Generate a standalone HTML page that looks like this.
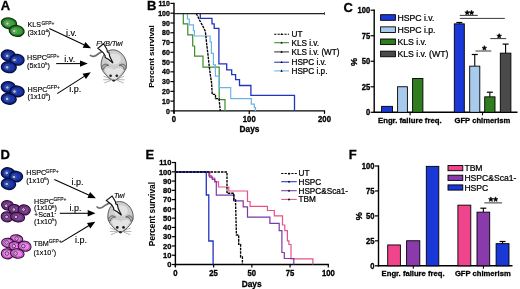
<!DOCTYPE html>
<html><head><meta charset="utf-8"><style>
html,body{margin:0;padding:0;background:#fff;}
svg{display:block;filter:blur(0.35px);}
svg text{font-family:"Liberation Sans", sans-serif;stroke:#000;stroke-width:0.14px;}
svg text.h{stroke:#000;stroke-width:0.24px;}
svg text[font-weight="bold"]{stroke:#000;stroke-width:0.3px;}
svg text.ps{stroke-width:0.05px;}
</style></head><body>
<svg width="520" height="289" viewBox="0 0 520 289">
<rect width="520" height="289" fill="#fff"/>
<text x="0.8" y="10.2" font-size="13" font-weight="bold" text-anchor="start" font-style="normal" fill="#000" >A</text>
<text x="146.9" y="9.9" font-size="13" font-weight="bold" text-anchor="start" font-style="normal" fill="#000" >B</text>
<text x="343.4" y="11.6" font-size="13" font-weight="bold" text-anchor="start" font-style="normal" fill="#000" >C</text>
<text x="0.6" y="158.6" font-size="13" font-weight="bold" text-anchor="start" font-style="normal" fill="#000" >D</text>
<text x="145.6" y="158.6" font-size="13" font-weight="bold" text-anchor="start" font-style="normal" fill="#000" >E</text>
<text x="348.8" y="159.0" font-size="13" font-weight="bold" text-anchor="start" font-style="normal" fill="#000" >F</text>
<g transform="translate(9,23.3) rotate(10)"><ellipse rx="7.6" ry="5.3" fill="#3e9f3e" stroke="#0a3a0a" stroke-width="1.4"/><ellipse rx="6.1" ry="4.0" fill="none" stroke="#0a3a0a" stroke-opacity="0.4" stroke-width="0.9"/></g>
<circle cx="7.4" cy="23.6" r="2.7" fill="#6ab86a"/><circle cx="7.4" cy="23.6" r="1.95" fill="#0a3a0a" fill-opacity="0.5"/><circle cx="7.4" cy="23.6" r="1.35" fill="#c4ccc4"/>
<g transform="translate(16.7,30.9) rotate(10)"><ellipse rx="7.4" ry="5.3" fill="#3e9f3e" stroke="#0a3a0a" stroke-width="1.4"/><ellipse rx="5.9" ry="4.0" fill="none" stroke="#0a3a0a" stroke-opacity="0.4" stroke-width="0.9"/></g>
<circle cx="14.3" cy="31.1" r="2.7" fill="#6ab86a"/><circle cx="14.3" cy="31.1" r="1.95" fill="#0a3a0a" fill-opacity="0.5"/><circle cx="14.3" cy="31.1" r="1.35" fill="#c4ccc4"/>
<g transform="translate(8.3,55.5) rotate(6)"><ellipse rx="7.0" ry="5.4" fill="#1c38ac" stroke="#060e40" stroke-width="1.4"/><ellipse rx="5.5" ry="4.1000000000000005" fill="none" stroke="#060e40" stroke-opacity="0.4" stroke-width="0.9"/></g>
<circle cx="7.3" cy="55.9" r="2.7" fill="#3a58bc"/><circle cx="7.3" cy="55.9" r="1.95" fill="#060e40" fill-opacity="0.5"/><circle cx="7.3" cy="55.9" r="1.35" fill="#b8bed4"/>
<g transform="translate(17.1,59.8) rotate(6)"><ellipse rx="7.0" ry="5.3" fill="#1c38ac" stroke="#060e40" stroke-width="1.4"/><ellipse rx="5.5" ry="4.0" fill="none" stroke="#060e40" stroke-opacity="0.4" stroke-width="0.9"/></g>
<circle cx="14.5" cy="60" r="2.7" fill="#3a58bc"/><circle cx="14.5" cy="60" r="1.95" fill="#060e40" fill-opacity="0.5"/><circle cx="14.5" cy="60" r="1.35" fill="#b8bed4"/>
<g transform="translate(8.8,67.2) rotate(6)"><ellipse rx="7.4" ry="5.4" fill="#1c38ac" stroke="#060e40" stroke-width="1.4"/><ellipse rx="5.9" ry="4.1000000000000005" fill="none" stroke="#060e40" stroke-opacity="0.4" stroke-width="0.9"/></g>
<circle cx="7.1" cy="67.3" r="2.7" fill="#3a58bc"/><circle cx="7.1" cy="67.3" r="1.95" fill="#060e40" fill-opacity="0.5"/><circle cx="7.1" cy="67.3" r="1.35" fill="#b8bed4"/>
<g transform="translate(8.3,87.1) rotate(6)"><ellipse rx="7.0" ry="5.4" fill="#1c38ac" stroke="#060e40" stroke-width="1.4"/><ellipse rx="5.5" ry="4.1000000000000005" fill="none" stroke="#060e40" stroke-opacity="0.4" stroke-width="0.9"/></g>
<circle cx="7.3" cy="87.5" r="2.7" fill="#3a58bc"/><circle cx="7.3" cy="87.5" r="1.95" fill="#060e40" fill-opacity="0.5"/><circle cx="7.3" cy="87.5" r="1.35" fill="#b8bed4"/>
<g transform="translate(17.1,91.4) rotate(6)"><ellipse rx="7.0" ry="5.3" fill="#1c38ac" stroke="#060e40" stroke-width="1.4"/><ellipse rx="5.5" ry="4.0" fill="none" stroke="#060e40" stroke-opacity="0.4" stroke-width="0.9"/></g>
<circle cx="14.5" cy="91.6" r="2.7" fill="#3a58bc"/><circle cx="14.5" cy="91.6" r="1.95" fill="#060e40" fill-opacity="0.5"/><circle cx="14.5" cy="91.6" r="1.35" fill="#b8bed4"/>
<g transform="translate(8.8,98.80000000000001) rotate(6)"><ellipse rx="7.4" ry="5.4" fill="#1c38ac" stroke="#060e40" stroke-width="1.4"/><ellipse rx="5.9" ry="4.1000000000000005" fill="none" stroke="#060e40" stroke-opacity="0.4" stroke-width="0.9"/></g>
<circle cx="7.1" cy="98.9" r="2.7" fill="#3a58bc"/><circle cx="7.1" cy="98.9" r="1.95" fill="#060e40" fill-opacity="0.5"/><circle cx="7.1" cy="98.9" r="1.35" fill="#b8bed4"/>
<g transform="translate(8,173.2) rotate(6)"><ellipse rx="6.7" ry="5.4" fill="#1c38ac" stroke="#060e40" stroke-width="1.4"/><ellipse rx="5.2" ry="4.1000000000000005" fill="none" stroke="#060e40" stroke-opacity="0.4" stroke-width="0.9"/></g>
<circle cx="6.7" cy="172.9" r="2.7" fill="#3a58bc"/><circle cx="6.7" cy="172.9" r="1.95" fill="#060e40" fill-opacity="0.5"/><circle cx="6.7" cy="172.9" r="1.35" fill="#b8bed4"/>
<g transform="translate(16,176.5) rotate(6)"><ellipse rx="6.5" ry="5.2" fill="#1c38ac" stroke="#060e40" stroke-width="1.4"/><ellipse rx="5.0" ry="3.9000000000000004" fill="none" stroke="#060e40" stroke-opacity="0.4" stroke-width="0.9"/></g>
<circle cx="14" cy="177" r="2.7" fill="#3a58bc"/><circle cx="14" cy="177" r="1.95" fill="#060e40" fill-opacity="0.5"/><circle cx="14" cy="177" r="1.35" fill="#b8bed4"/>
<g transform="translate(8.5,184) rotate(6)"><ellipse rx="7.1" ry="5.4" fill="#1c38ac" stroke="#060e40" stroke-width="1.4"/><ellipse rx="5.6" ry="4.1000000000000005" fill="none" stroke="#060e40" stroke-opacity="0.4" stroke-width="0.9"/></g>
<circle cx="6.7" cy="184" r="2.7" fill="#3a58bc"/><circle cx="6.7" cy="184" r="1.95" fill="#060e40" fill-opacity="0.5"/><circle cx="6.7" cy="184" r="1.35" fill="#b8bed4"/>
<g transform="translate(7.6,205.4) rotate(10)"><ellipse rx="6.1" ry="4.7" fill="#85449b" stroke="#2c0a36" stroke-width="1.15"/><ellipse rx="4.6" ry="3.4000000000000004" fill="none" stroke="#2c0a36" stroke-opacity="0.4" stroke-width="0.9"/></g>
<circle cx="6.2" cy="205.8" r="1.75" fill="#e0d4e4" stroke="#2c0a36" stroke-width="0.75"/><circle cx="6.2" cy="205.8" r="0.6" fill="#888"/>
<g transform="translate(14.5,209.2) rotate(10)"><ellipse rx="6.2" ry="4.6" fill="#85449b" stroke="#2c0a36" stroke-width="1.15"/><ellipse rx="4.7" ry="3.3" fill="none" stroke="#2c0a36" stroke-opacity="0.4" stroke-width="0.9"/></g>
<circle cx="13.8" cy="209.5" r="1.75" fill="#e0d4e4" stroke="#2c0a36" stroke-width="0.75"/><circle cx="13.8" cy="209.5" r="0.6" fill="#888"/>
<g transform="translate(24.2,209.9) rotate(10)"><ellipse rx="6.1" ry="5.0" fill="#85449b" stroke="#2c0a36" stroke-width="1.15"/><ellipse rx="4.6" ry="3.7" fill="none" stroke="#2c0a36" stroke-opacity="0.4" stroke-width="0.9"/></g>
<circle cx="23.5" cy="209.5" r="1.75" fill="#e0d4e4" stroke="#2c0a36" stroke-width="0.75"/><circle cx="23.5" cy="209.5" r="0.6" fill="#888"/>
<g transform="translate(7,216.8) rotate(10)"><ellipse rx="5.8" ry="5.0" fill="#85449b" stroke="#2c0a36" stroke-width="1.15"/><ellipse rx="4.3" ry="3.7" fill="none" stroke="#2c0a36" stroke-opacity="0.4" stroke-width="0.9"/></g>
<circle cx="6.6" cy="216.9" r="1.75" fill="#e0d4e4" stroke="#2c0a36" stroke-width="0.75"/><circle cx="6.6" cy="216.9" r="0.6" fill="#888"/>
<g transform="translate(17.6,217.1) rotate(10)"><ellipse rx="7.0" ry="4.7" fill="#85449b" stroke="#2c0a36" stroke-width="1.15"/><ellipse rx="5.5" ry="3.4000000000000004" fill="none" stroke="#2c0a36" stroke-opacity="0.4" stroke-width="0.9"/></g>
<circle cx="15.9" cy="216.9" r="1.75" fill="#e0d4e4" stroke="#2c0a36" stroke-width="0.75"/><circle cx="15.9" cy="216.9" r="0.6" fill="#888"/>
<g transform="translate(16.6,238.6) rotate(10)"><ellipse rx="6.2" ry="3.8" fill="#ee84ee" stroke="#3c0a40" stroke-width="1.1"/><ellipse rx="4.7" ry="2.5" fill="none" stroke="#3c0a40" stroke-opacity="0.4" stroke-width="0.9"/></g>
<circle cx="16.6" cy="238.6" r="1.75" fill="#ecd4ec" stroke="#3c0a40" stroke-width="0.75"/><circle cx="16.6" cy="238.6" r="0.6" fill="#888"/>
<g transform="translate(8,243) rotate(10)"><ellipse rx="6.4" ry="4.7" fill="#ee84ee" stroke="#3c0a40" stroke-width="1.1"/><ellipse rx="4.9" ry="3.4000000000000004" fill="none" stroke="#3c0a40" stroke-opacity="0.4" stroke-width="0.9"/></g>
<circle cx="6.6" cy="242.4" r="1.75" fill="#ecd4ec" stroke="#3c0a40" stroke-width="0.75"/><circle cx="6.6" cy="242.4" r="0.6" fill="#888"/>
<g transform="translate(14.9,246.2) rotate(10)"><ellipse rx="6.0" ry="4.5" fill="#ee84ee" stroke="#3c0a40" stroke-width="1.1"/><ellipse rx="4.5" ry="3.2" fill="none" stroke="#3c0a40" stroke-opacity="0.4" stroke-width="0.9"/></g>
<circle cx="13.8" cy="246.1" r="1.75" fill="#ecd4ec" stroke="#3c0a40" stroke-width="0.75"/><circle cx="13.8" cy="246.1" r="0.6" fill="#888"/>
<g transform="translate(24.6,246.2) rotate(10)"><ellipse rx="6.5" ry="5.0" fill="#ee84ee" stroke="#3c0a40" stroke-width="1.1"/><ellipse rx="5.0" ry="3.7" fill="none" stroke="#3c0a40" stroke-opacity="0.4" stroke-width="0.9"/></g>
<circle cx="23.3" cy="246.1" r="1.75" fill="#ecd4ec" stroke="#3c0a40" stroke-width="0.75"/><circle cx="23.3" cy="246.1" r="0.6" fill="#888"/>
<g transform="translate(7.3,253.8) rotate(10)"><ellipse rx="6.0" ry="5.0" fill="#ee84ee" stroke="#3c0a40" stroke-width="1.1"/><ellipse rx="4.5" ry="3.7" fill="none" stroke="#3c0a40" stroke-opacity="0.4" stroke-width="0.9"/></g>
<circle cx="6.9" cy="253.5" r="1.75" fill="#ecd4ec" stroke="#3c0a40" stroke-width="0.75"/><circle cx="6.9" cy="253.5" r="0.6" fill="#888"/>
<g transform="translate(17.3,253.5) rotate(10)"><ellipse rx="6.8" ry="4.7" fill="#ee84ee" stroke="#3c0a40" stroke-width="1.1"/><ellipse rx="5.3" ry="3.4000000000000004" fill="none" stroke="#3c0a40" stroke-opacity="0.4" stroke-width="0.9"/></g>
<circle cx="15.5" cy="253.5" r="1.75" fill="#ecd4ec" stroke="#3c0a40" stroke-width="0.75"/><circle cx="15.5" cy="253.5" r="0.6" fill="#888"/>
<text x="27.6" y="27.2" font-size="7.1" font-weight="normal" text-anchor="start" font-style="normal" fill="#000" >KLS</text>
<text x="41.4" y="24.6" font-size="4.9" fill="#000">GFP+</text>
<text x="27.4" y="34.9" font-size="7.2" fill="#000">(3x10<tspan font-size="4.4" dy="-2.8">4</tspan><tspan dy="2.8">)</tspan></text>
<text x="27.0" y="60.4" font-size="7.2" fill="#000">HSPC</text>
<text x="46.4" y="57.8" font-size="4.9" fill="#000">GFP+</text>
<text x="27.0" y="67.8" font-size="7.2" fill="#000">(5x10<tspan font-size="4.4" dy="-2.8">5</tspan><tspan dy="2.8">)</tspan></text>
<text x="27.6" y="91.5" font-size="7.2" fill="#000">HSPC</text>
<text x="47.0" y="88.9" font-size="4.9" fill="#000">GFP+</text>
<text x="27.6" y="98.9" font-size="7.2" fill="#000">(1x10<tspan font-size="4.4" dy="-2.8">6</tspan><tspan dy="2.8">)</tspan></text>
<text x="26.2" y="175.2" font-size="7.2" fill="#000">HSPC</text>
<text x="45.599999999999994" y="172.6" font-size="4.9" fill="#000">GFP+</text>
<text x="26.2" y="182.5" font-size="7.2" fill="#000">(1x10<tspan font-size="4.4" dy="-2.8">6</tspan><tspan dy="2.8">)</tspan></text>
<text x="34.0" y="203.8" font-size="7.2" fill="#000">HSPC</text>
<text x="53.4" y="201.20000000000002" font-size="4.9" fill="#000">GFP+</text>
<text x="34.0" y="210.3" font-size="7.2" fill="#000">(1x10<tspan font-size="4.4" dy="-2.8">6</tspan><tspan dy="2.8">)</tspan></text>
<text x="34.0" y="217.0" font-size="7.2" fill="#000">+Sca1<tspan font-size="4.4" dy="-2.8">-</tspan></text>
<text x="34.0" y="224.0" font-size="7.2" fill="#000">(1x10<tspan font-size="4.4" dy="-2.8">5</tspan><tspan dy="2.8">)</tspan></text>
<text x="33.6" y="246.0" font-size="7.2" fill="#000">TBM</text>
<text x="48.8" y="243.4" font-size="4.9" fill="#000">GFP+</text>
<text x="33.4" y="254.9" font-size="7.2" fill="#000">(1x10<tspan font-size="4.4" dy="-2.8">7</tspan><tspan dy="2.8">)</tspan></text>
<line x1="49.3" y1="28.6" x2="84.49" y2="45.10" stroke="#000" stroke-width="1.05"/>
<polygon points="91.10,48.20 82.68,47.79 85.40,41.99" fill="#000"/>
<line x1="56.2" y1="63.6" x2="80.50" y2="63.60" stroke="#000" stroke-width="1.05"/>
<polygon points="87.80,63.60 80.00,66.80 80.00,60.40" fill="#000"/>
<line x1="57.2" y1="93.6" x2="84.64" y2="76.12" stroke="#000" stroke-width="1.05"/>
<polygon points="90.80,72.20 85.94,79.09 82.50,73.69" fill="#000"/>
<line x1="54.3" y1="179.6" x2="89.24" y2="195.22" stroke="#000" stroke-width="1.05"/>
<polygon points="95.90,198.20 87.47,197.94 90.09,192.09" fill="#000"/>
<line x1="59.8" y1="213.3" x2="88.20" y2="213.30" stroke="#000" stroke-width="1.05"/>
<polygon points="95.50,213.30 87.70,216.50 87.70,210.10" fill="#000"/>
<line x1="61.2" y1="242.4" x2="89.05" y2="225.57" stroke="#000" stroke-width="1.05"/>
<polygon points="95.30,221.80 90.28,228.57 86.97,223.09" fill="#000"/>
<text x="66.0" y="35.5" font-size="9" font-weight="normal" text-anchor="start" font-style="normal" fill="#000" >i.v.</text>
<text x="64.3" y="61.9" font-size="9" font-weight="normal" text-anchor="start" font-style="normal" fill="#000" >i.v.</text>
<text x="69.2" y="91.7" font-size="9" font-weight="normal" text-anchor="start" font-style="normal" fill="#000" >i.p.</text>
<text x="71.4" y="185.2" font-size="9" font-weight="normal" text-anchor="start" font-style="normal" fill="#000" >i.p.</text>
<text x="69.6" y="210.9" font-size="9" font-weight="normal" text-anchor="start" font-style="normal" fill="#000" >i.p.</text>
<text x="75.0" y="242.9" font-size="9" font-weight="normal" text-anchor="start" font-style="normal" fill="#000" >i.p.</text>
<text x="96.2" y="45.7" font-size="7.1" font-weight="normal" text-anchor="start" font-style="italic" fill="#000" >FVB/Twi</text>
<text x="114.0" y="197.6" font-size="7.1" font-weight="normal" text-anchor="start" font-style="italic" fill="#000" >Twi</text>
<g transform="translate(0,0)">
<path d="M90.4,55.3 C92,57.2 95,56.6 98,54 C100,52.4 102,51.2 104.5,51.2" fill="none" stroke="#707070" stroke-width="1.7" stroke-linecap="round"/>
<path d="M112.6,49.8 C119.6,49.8 126.5,56.5 126.5,65.2 C126.5,71.2 120,77.6 113.9,81.2 C107.7,77.6 101.1,71.2 101.1,65.2 C101.1,57.2 105.6,49.8 112.6,49.8 Z" fill="#cdcdcd" stroke="#555" stroke-width="0.95"/>
<ellipse cx="114" cy="59" rx="7" ry="5.5" fill="#e2e2e2"/>
<path d="M104.5,69.5 C108,67.3 111,67.8 113.9,70 C116.8,67.8 119.8,67.3 123.3,69.5 C121,74.5 117.5,78 113.9,80.2 C110.3,78 106.8,74.5 104.5,69.5 Z" fill="#e4e4e4"/>
<path d="M101.6,68.6 C101.6,64.8 105.2,62.6 108.8,65.4 C106.2,65.2 104.2,66.4 103.6,69.6 Z" fill="#b0b0b0" stroke="#555" stroke-width="0.85"/>
<path d="M126.2,68.6 C126.2,64.8 122.6,62.6 119.0,65.4 C121.6,65.2 123.6,66.4 124.2,69.6 Z" fill="#b0b0b0" stroke="#555" stroke-width="0.85"/>
<circle cx="110.6" cy="75.7" r="1.3" fill="#1a1a1a"/><circle cx="116.8" cy="75.7" r="1.3" fill="#1a1a1a"/><ellipse cx="113.7" cy="80.5" rx="1.6" ry="1.1" fill="#2a2a2a"/>
<g stroke="#555" stroke-width="0.45" fill="none"><path d="M111,79 L103.6,76.2"/><path d="M111,79.6 L103.2,79.8"/><path d="M111.2,80.2 L104.2,83"/><path d="M116.8,79 L124.2,76.2"/><path d="M116.8,79.6 L124.6,79.8"/><path d="M116.6,80.2 L123.6,83"/></g>
</g>
<polygon points="97.90,48.20 103.61,43.82 106.83,49.16 107.46,51.95 108.78,52.20 109.78,56.60 112.99,63.09 108.75,59.54 105.17,57.50 105.11,55.78 103.11,52.52" fill="#fff" stroke="#111" stroke-width="1.15" stroke-linejoin="miter"/>
<g transform="translate(6.7,151.7)">
<path d="M90.4,55.3 C92,57.2 95,56.6 98,54 C100,52.4 102,51.2 104.5,51.2" fill="none" stroke="#707070" stroke-width="1.7" stroke-linecap="round"/>
<path d="M112.6,49.8 C119.6,49.8 126.5,56.5 126.5,65.2 C126.5,71.2 120,77.6 113.9,81.2 C107.7,77.6 101.1,71.2 101.1,65.2 C101.1,57.2 105.6,49.8 112.6,49.8 Z" fill="#cdcdcd" stroke="#555" stroke-width="0.95"/>
<ellipse cx="114" cy="59" rx="7" ry="5.5" fill="#e2e2e2"/>
<path d="M104.5,69.5 C108,67.3 111,67.8 113.9,70 C116.8,67.8 119.8,67.3 123.3,69.5 C121,74.5 117.5,78 113.9,80.2 C110.3,78 106.8,74.5 104.5,69.5 Z" fill="#e4e4e4"/>
<path d="M101.6,68.6 C101.6,64.8 105.2,62.6 108.8,65.4 C106.2,65.2 104.2,66.4 103.6,69.6 Z" fill="#b0b0b0" stroke="#555" stroke-width="0.85"/>
<path d="M126.2,68.6 C126.2,64.8 122.6,62.6 119.0,65.4 C121.6,65.2 123.6,66.4 124.2,69.6 Z" fill="#b0b0b0" stroke="#555" stroke-width="0.85"/>
<circle cx="110.6" cy="75.7" r="1.3" fill="#1a1a1a"/><circle cx="116.8" cy="75.7" r="1.3" fill="#1a1a1a"/><ellipse cx="113.7" cy="80.5" rx="1.6" ry="1.1" fill="#2a2a2a"/>
<g stroke="#555" stroke-width="0.45" fill="none"><path d="M111,79 L103.6,76.2"/><path d="M111,79.6 L103.2,79.8"/><path d="M111.2,80.2 L104.2,83"/><path d="M116.8,79 L124.2,76.2"/><path d="M116.8,79.6 L124.6,79.8"/><path d="M116.6,80.2 L123.6,83"/></g>
</g>
<polygon points="106.40,200.40 112.11,196.02 115.33,201.36 115.96,204.15 117.28,204.40 118.28,208.80 121.49,215.29 117.25,211.74 113.67,209.70 113.61,207.98 111.61,204.72" fill="#fff" stroke="#111" stroke-width="1.15" stroke-linejoin="miter"/>
<line x1="174.0" y1="2.83" x2="174.0" y2="113.4" stroke="#000" stroke-width="1.4"/>
<line x1="173.3" y1="110.9" x2="325.10" y2="110.9" stroke="#000" stroke-width="1.4"/>
<line x1="170.4" y1="110.90" x2="174.0" y2="110.90" stroke="#000" stroke-width="1.2"/>
<text transform="translate(169.8,113.55) scale(1,1.08)" x="0" y="0" font-size="7" font-weight="bold" text-anchor="end" font-style="normal" fill="#000" >0</text>
<line x1="170.4" y1="101.13" x2="174.0" y2="101.13" stroke="#000" stroke-width="1.2"/>
<text transform="translate(169.8,103.78) scale(1,1.08)" x="0" y="0" font-size="7" font-weight="bold" text-anchor="end" font-style="normal" fill="#000" >10</text>
<line x1="170.4" y1="91.36" x2="174.0" y2="91.36" stroke="#000" stroke-width="1.2"/>
<text transform="translate(169.8,94.01) scale(1,1.08)" x="0" y="0" font-size="7" font-weight="bold" text-anchor="end" font-style="normal" fill="#000" >20</text>
<line x1="170.4" y1="81.59" x2="174.0" y2="81.59" stroke="#000" stroke-width="1.2"/>
<text transform="translate(169.8,84.24) scale(1,1.08)" x="0" y="0" font-size="7" font-weight="bold" text-anchor="end" font-style="normal" fill="#000" >30</text>
<line x1="170.4" y1="71.82" x2="174.0" y2="71.82" stroke="#000" stroke-width="1.2"/>
<text transform="translate(169.8,74.47) scale(1,1.08)" x="0" y="0" font-size="7" font-weight="bold" text-anchor="end" font-style="normal" fill="#000" >40</text>
<line x1="170.4" y1="62.05" x2="174.0" y2="62.05" stroke="#000" stroke-width="1.2"/>
<text transform="translate(169.8,64.7) scale(1,1.08)" x="0" y="0" font-size="7" font-weight="bold" text-anchor="end" font-style="normal" fill="#000" >50</text>
<line x1="170.4" y1="52.28" x2="174.0" y2="52.28" stroke="#000" stroke-width="1.2"/>
<text transform="translate(169.8,54.93) scale(1,1.08)" x="0" y="0" font-size="7" font-weight="bold" text-anchor="end" font-style="normal" fill="#000" >60</text>
<line x1="170.4" y1="42.51" x2="174.0" y2="42.51" stroke="#000" stroke-width="1.2"/>
<text transform="translate(169.8,45.16) scale(1,1.08)" x="0" y="0" font-size="7" font-weight="bold" text-anchor="end" font-style="normal" fill="#000" >70</text>
<line x1="170.4" y1="32.74" x2="174.0" y2="32.74" stroke="#000" stroke-width="1.2"/>
<text transform="translate(169.8,35.39) scale(1,1.08)" x="0" y="0" font-size="7" font-weight="bold" text-anchor="end" font-style="normal" fill="#000" >80</text>
<line x1="170.4" y1="22.97" x2="174.0" y2="22.97" stroke="#000" stroke-width="1.2"/>
<text transform="translate(169.8,25.62) scale(1,1.08)" x="0" y="0" font-size="7" font-weight="bold" text-anchor="end" font-style="normal" fill="#000" >90</text>
<line x1="170.4" y1="13.20" x2="174.0" y2="13.20" stroke="#000" stroke-width="1.2"/>
<text transform="translate(169.8,15.85) scale(1,1.08)" x="0" y="0" font-size="7" font-weight="bold" text-anchor="end" font-style="normal" fill="#000" >100</text>
<line x1="170.4" y1="3.43" x2="174.0" y2="3.43" stroke="#000" stroke-width="1.2"/>
<text transform="translate(169.8,6.08) scale(1,1.08)" x="0" y="0" font-size="7" font-weight="bold" text-anchor="end" font-style="normal" fill="#000" >110</text>
<line x1="174.00" y1="110.9" x2="174.00" y2="113.9" stroke="#000" stroke-width="1.2"/>
<text transform="translate(174.0,121.8) scale(1,1.1)" x="0" y="0" font-size="7.7" font-weight="bold" text-anchor="middle" font-style="normal" fill="#000" >0</text>
<line x1="249.25" y1="110.9" x2="249.25" y2="113.9" stroke="#000" stroke-width="1.2"/>
<text transform="translate(249.25,121.8) scale(1,1.1)" x="0" y="0" font-size="7.7" font-weight="bold" text-anchor="middle" font-style="normal" fill="#000" >100</text>
<line x1="324.50" y1="110.9" x2="324.50" y2="113.9" stroke="#000" stroke-width="1.2"/>
<text transform="translate(324.5,121.8) scale(1,1.1)" x="0" y="0" font-size="7.7" font-weight="bold" text-anchor="middle" font-style="normal" fill="#000" >200</text>
<text x="249.5" y="132.4" font-size="8.3" font-weight="bold" text-anchor="middle" font-style="normal" fill="#000" >Days</text>
<text transform="translate(154.0,56.6) rotate(-90)" font-size="8.1" font-weight="bold" text-anchor="middle" class="ps">Percent survival</text>
<polyline points="183.30,13.50 183.30,23.80 187.80,23.80 187.80,34.90 192.70,34.90 192.70,46.00 194.60,46.00 194.60,56.10 203.00,56.10 203.00,67.10 219.20,67.10 219.20,99.60 225.00,99.60 225.00,110.90" fill="none" stroke="#3a8c2a" stroke-width="1.2"/>
<polyline points="187.40,13.50 187.40,19.00 189.30,19.00 189.30,24.90 193.40,24.90 193.40,30.50 194.40,30.50 194.40,36.00 210.10,36.00 210.10,41.80 211.40,41.80 211.40,53.30 213.40,53.30 213.40,64.90 215.40,64.90 215.40,76.20 219.20,76.20 219.20,87.60 230.70,87.60 230.70,98.60 251.30,98.60 251.30,104.20 254.30,104.20 254.30,107.60 255.50,107.60 255.50,110.90" fill="none" stroke="#6cb4e8" stroke-width="1.2"/>
<polyline points="200.30,13.50 200.30,18.30 212.00,18.30 212.00,23.80 214.20,23.80 214.20,28.30 218.90,28.30 218.90,63.90 226.70,63.90 226.70,69.80 231.70,69.80 231.70,74.70 235.60,74.70 235.60,79.60 239.50,79.60 239.50,85.50 250.90,85.50 250.90,95.30 294.50,95.30 294.50,110.90" fill="none" stroke="#2233c0" stroke-width="1.3"/>
<polyline points="196.20,13.50 197.60,16.00 199.20,19.50 200.80,22.50 202.50,25.50 204.00,28.50 205.30,31.20 206.00,37.00 206.80,45.00 208.00,55.00 209.30,67.00 210.50,76.00 211.60,83.00 212.20,94.40 215.50,94.40 215.50,98.60 219.00,98.60 220.30,110.90" fill="none" stroke="#000" stroke-width="1.35" stroke-dasharray="2.6,0.9"/>
<line x1="174.0" y1="13.5" x2="324.50" y2="13.5" stroke="#222" stroke-width="1.25"/>
<line x1="324.50" y1="12.0" x2="324.50" y2="15.0" stroke="#333" stroke-width="0.8"/>
<line x1="274.2" y1="34.2" x2="289.0" y2="34.2" stroke="#000" stroke-width="1.05" stroke-dasharray="2.2,1.2"/>
<polygon points="280.40000000000003,35.1 282.8,35.1 281.6,32.900000000000006" fill="#000"/>
<text x="291.5" y="37.15" font-size="8.2" font-weight="normal" text-anchor="start" font-style="normal" fill="#000" class="h">UT</text>
<line x1="274.2" y1="42.7" x2="289.0" y2="42.7" stroke="#3a8c2a" stroke-width="1.05"/>
<polygon points="280.40000000000003,43.6 282.8,43.6 281.6,41.400000000000006" fill="#000"/>
<text x="291.5" y="45.65" font-size="8.2" font-weight="normal" text-anchor="start" font-style="normal" fill="#000" class="h">KLS i.v.</text>
<line x1="274.2" y1="51.9" x2="289.0" y2="51.9" stroke="#333" stroke-width="1.05"/>
<polygon points="280.40000000000003,52.8 282.8,52.8 281.6,50.6" fill="#000"/>
<text x="291.5" y="54.85" font-size="8.2" font-weight="normal" text-anchor="start" font-style="normal" fill="#000" class="h">KLS i.v. (WT)</text>
<line x1="274.2" y1="62.2" x2="289.0" y2="62.2" stroke="#2233c0" stroke-width="1.05"/>
<polygon points="280.40000000000003,63.1 282.8,63.1 281.6,60.900000000000006" fill="#000"/>
<text x="291.5" y="65.15" font-size="8.2" font-weight="normal" text-anchor="start" font-style="normal" fill="#000" class="h">HSPC i.v.</text>
<line x1="274.2" y1="70.9" x2="289.0" y2="70.9" stroke="#6cb4e8" stroke-width="1.05"/>
<polygon points="280.40000000000003,71.80000000000001 282.8,71.80000000000001 281.6,69.60000000000001" fill="#000"/>
<text x="291.5" y="73.85" font-size="8.2" font-weight="normal" text-anchor="start" font-style="normal" fill="#000" class="h">HSPC i.p.</text>
<line x1="175.4" y1="161.93" x2="175.4" y2="267.0" stroke="#000" stroke-width="1.4"/>
<line x1="174.70000000000002" y1="264.5" x2="328.90" y2="264.5" stroke="#000" stroke-width="1.4"/>
<line x1="171.8" y1="264.50" x2="175.4" y2="264.50" stroke="#000" stroke-width="1.2"/>
<text transform="translate(171.4,267.3) scale(1,1.06)" x="0" y="0" font-size="7.5" font-weight="bold" text-anchor="end" font-style="normal" fill="#000" >0</text>
<line x1="171.8" y1="255.23" x2="175.4" y2="255.23" stroke="#000" stroke-width="1.2"/>
<text transform="translate(171.4,258.03) scale(1,1.06)" x="0" y="0" font-size="7.5" font-weight="bold" text-anchor="end" font-style="normal" fill="#000" >10</text>
<line x1="171.8" y1="245.96" x2="175.4" y2="245.96" stroke="#000" stroke-width="1.2"/>
<text transform="translate(171.4,248.76) scale(1,1.06)" x="0" y="0" font-size="7.5" font-weight="bold" text-anchor="end" font-style="normal" fill="#000" >20</text>
<line x1="171.8" y1="236.69" x2="175.4" y2="236.69" stroke="#000" stroke-width="1.2"/>
<text transform="translate(171.4,239.49) scale(1,1.06)" x="0" y="0" font-size="7.5" font-weight="bold" text-anchor="end" font-style="normal" fill="#000" >30</text>
<line x1="171.8" y1="227.42" x2="175.4" y2="227.42" stroke="#000" stroke-width="1.2"/>
<text transform="translate(171.4,230.22) scale(1,1.06)" x="0" y="0" font-size="7.5" font-weight="bold" text-anchor="end" font-style="normal" fill="#000" >40</text>
<line x1="171.8" y1="218.15" x2="175.4" y2="218.15" stroke="#000" stroke-width="1.2"/>
<text transform="translate(171.4,220.95) scale(1,1.06)" x="0" y="0" font-size="7.5" font-weight="bold" text-anchor="end" font-style="normal" fill="#000" >50</text>
<line x1="171.8" y1="208.88" x2="175.4" y2="208.88" stroke="#000" stroke-width="1.2"/>
<text transform="translate(171.4,211.68) scale(1,1.06)" x="0" y="0" font-size="7.5" font-weight="bold" text-anchor="end" font-style="normal" fill="#000" >60</text>
<line x1="171.8" y1="199.61" x2="175.4" y2="199.61" stroke="#000" stroke-width="1.2"/>
<text transform="translate(171.4,202.41) scale(1,1.06)" x="0" y="0" font-size="7.5" font-weight="bold" text-anchor="end" font-style="normal" fill="#000" >70</text>
<line x1="171.8" y1="190.34" x2="175.4" y2="190.34" stroke="#000" stroke-width="1.2"/>
<text transform="translate(171.4,193.14) scale(1,1.06)" x="0" y="0" font-size="7.5" font-weight="bold" text-anchor="end" font-style="normal" fill="#000" >80</text>
<line x1="171.8" y1="181.07" x2="175.4" y2="181.07" stroke="#000" stroke-width="1.2"/>
<text transform="translate(171.4,183.87) scale(1,1.06)" x="0" y="0" font-size="7.5" font-weight="bold" text-anchor="end" font-style="normal" fill="#000" >90</text>
<line x1="171.8" y1="171.80" x2="175.4" y2="171.80" stroke="#000" stroke-width="1.2"/>
<text transform="translate(171.4,174.6) scale(1,1.06)" x="0" y="0" font-size="7.5" font-weight="bold" text-anchor="end" font-style="normal" fill="#000" >100</text>
<line x1="171.8" y1="162.53" x2="175.4" y2="162.53" stroke="#000" stroke-width="1.2"/>
<text transform="translate(171.4,165.33) scale(1,1.06)" x="0" y="0" font-size="7.5" font-weight="bold" text-anchor="end" font-style="normal" fill="#000" >110</text>
<line x1="175.40" y1="264.5" x2="175.40" y2="267.5" stroke="#000" stroke-width="1.2"/>
<text transform="translate(175.4,275.5) scale(1,1.1)" x="0" y="0" font-size="7.7" font-weight="bold" text-anchor="middle" font-style="normal" fill="#000" >0</text>
<line x1="213.62" y1="264.5" x2="213.62" y2="267.5" stroke="#000" stroke-width="1.2"/>
<text transform="translate(213.62,275.5) scale(1,1.1)" x="0" y="0" font-size="7.7" font-weight="bold" text-anchor="middle" font-style="normal" fill="#000" >25</text>
<line x1="251.85" y1="264.5" x2="251.85" y2="267.5" stroke="#000" stroke-width="1.2"/>
<text transform="translate(251.85,275.5) scale(1,1.1)" x="0" y="0" font-size="7.7" font-weight="bold" text-anchor="middle" font-style="normal" fill="#000" >50</text>
<line x1="290.07" y1="264.5" x2="290.07" y2="267.5" stroke="#000" stroke-width="1.2"/>
<text transform="translate(290.07,275.5) scale(1,1.1)" x="0" y="0" font-size="7.7" font-weight="bold" text-anchor="middle" font-style="normal" fill="#000" >75</text>
<line x1="328.30" y1="264.5" x2="328.30" y2="267.5" stroke="#000" stroke-width="1.2"/>
<text transform="translate(328.3,275.5) scale(1,1.1)" x="0" y="0" font-size="7.7" font-weight="bold" text-anchor="middle" font-style="normal" fill="#000" >100</text>
<text x="251.7" y="287.0" font-size="8.3" font-weight="bold" text-anchor="middle" font-style="normal" fill="#000" >Days</text>
<text transform="translate(155.4,214.1) rotate(-90)" font-size="8.3" font-weight="bold" text-anchor="middle" class="ps">Percent survival</text>
<polyline points="175.40,172.00 208.70,172.00 208.70,175.80 211.80,175.80 211.80,178.00 214.60,178.00 214.60,181.80 218.50,181.80 218.50,187.00 228.80,187.00 228.80,191.00 247.50,191.00 247.50,201.50 250.10,201.50 250.10,206.30 267.40,206.30 267.40,210.50 274.30,210.50 274.30,215.80 282.50,215.80 282.50,225.00 284.80,225.00 284.80,230.60 287.40,230.60 287.40,240.80 288.90,240.80 288.90,244.50 291.00,244.50 291.00,258.80 312.90,258.80 312.90,264.50" fill="none" stroke="#e8508c" stroke-width="1.2"/>
<polyline points="175.40,172.00 209.70,172.00 209.70,177.20 212.30,177.20 212.30,179.40 214.90,179.40 214.90,181.50 216.30,181.50 216.30,195.20 234.00,195.20 234.00,200.80 243.20,200.80 243.20,206.80 247.50,206.80 247.50,217.20 269.90,217.20 269.90,223.30 279.20,223.30 279.20,230.60 281.90,230.60 281.90,252.50 284.30,252.50 284.30,258.50 293.80,258.50 293.80,264.50" fill="none" stroke="#7a3aaa" stroke-width="1.2"/>
<polyline points="175.40,172.00 206.30,172.00 206.30,195.00 208.80,195.00 208.80,241.00 213.10,241.00 213.10,264.50" fill="none" stroke="#2233c0" stroke-width="1.3"/>
<polyline points="175.40,172.00 227.00,172.00 227.00,193.20 233.80,193.20 233.80,200.00 235.50,200.00 236.40,235.00 238.70,235.00 238.70,244.30 240.60,244.30 240.60,257.00 242.40,257.00 242.40,264.50" fill="none" stroke="#000" stroke-width="1.35" stroke-dasharray="2.6,0.9"/>
<line x1="281.2" y1="173.5" x2="296.8" y2="173.5" stroke="#000" stroke-width="1.05" stroke-dasharray="2.2,1.2"/>
<polygon points="287.8,174.4 290.2,174.4 289.0,172.2" fill="#000"/>
<text x="298.5" y="176.45" font-size="8.2" font-weight="normal" text-anchor="start" font-style="normal" fill="#000" class="h">UT</text>
<line x1="281.2" y1="181.7" x2="296.8" y2="181.7" stroke="#2233c0" stroke-width="1.05"/>
<polygon points="287.8,182.6 290.2,182.6 289.0,180.39999999999998" fill="#000"/>
<text x="298.5" y="184.65" font-size="8.2" font-weight="normal" text-anchor="start" font-style="normal" fill="#000" class="h">HSPC</text>
<line x1="281.2" y1="190.7" x2="296.8" y2="190.7" stroke="#7a3aaa" stroke-width="1.05"/>
<polygon points="287.8,191.6 290.2,191.6 289.0,189.39999999999998" fill="#000"/>
<text x="298.5" y="193.65" font-size="8.2" font-weight="normal" text-anchor="start" font-style="normal" fill="#000" class="h">HSPC&amp;Sca1-</text>
<line x1="281.2" y1="199.4" x2="296.8" y2="199.4" stroke="#e8508c" stroke-width="1.05"/>
<polygon points="287.8,200.3 290.2,200.3 289.0,198.1" fill="#000"/>
<text x="298.5" y="202.35" font-size="8.2" font-weight="normal" text-anchor="start" font-style="normal" fill="#000" class="h">TBM</text>
<line x1="374.2" y1="9.60" x2="374.2" y2="113.0" stroke="#000" stroke-width="1.4"/>
<line x1="373.5" y1="112.3" x2="517.5" y2="112.3" stroke="#000" stroke-width="1.4"/>
<line x1="370.59999999999997" y1="112.30" x2="374.2" y2="112.30" stroke="#000" stroke-width="1.2"/>
<text transform="translate(370.2,115.2) scale(1,1.14)" x="0" y="0" font-size="7.6" font-weight="bold" text-anchor="end" font-style="normal" fill="#000" >0</text>
<line x1="370.59999999999997" y1="86.78" x2="374.2" y2="86.78" stroke="#000" stroke-width="1.2"/>
<text transform="translate(370.2,89.68) scale(1,1.14)" x="0" y="0" font-size="7.6" font-weight="bold" text-anchor="end" font-style="normal" fill="#000" >25</text>
<line x1="370.59999999999997" y1="61.25" x2="374.2" y2="61.25" stroke="#000" stroke-width="1.2"/>
<text transform="translate(370.2,64.15) scale(1,1.14)" x="0" y="0" font-size="7.6" font-weight="bold" text-anchor="end" font-style="normal" fill="#000" >50</text>
<line x1="370.59999999999997" y1="35.73" x2="374.2" y2="35.73" stroke="#000" stroke-width="1.2"/>
<text transform="translate(370.2,38.63) scale(1,1.14)" x="0" y="0" font-size="7.6" font-weight="bold" text-anchor="end" font-style="normal" fill="#000" >75</text>
<line x1="370.59999999999997" y1="10.20" x2="374.2" y2="10.20" stroke="#000" stroke-width="1.2"/>
<text transform="translate(370.2,13.1) scale(1,1.14)" x="0" y="0" font-size="7.6" font-weight="bold" text-anchor="end" font-style="normal" fill="#000" >100</text>
<line x1="410.1" y1="112.3" x2="410.1" y2="115.3" stroke="#000" stroke-width="1.1"/>
<line x1="482.5" y1="112.3" x2="482.5" y2="115.3" stroke="#000" stroke-width="1.1"/>
<text transform="translate(356.7,62.0) rotate(-90)" font-size="9" font-weight="bold" text-anchor="middle">%</text>
<rect x="381.6" y="106.35" width="10.90" height="5.95" fill="#1a38d8" stroke="#000" stroke-width="0.9"/>
<rect x="397.6" y="86.75" width="9.80" height="25.55" fill="#a8caec" stroke="#000" stroke-width="0.9"/>
<rect x="412.6" y="78.45" width="10.30" height="33.85" fill="#2f7d1f" stroke="#000" stroke-width="0.9"/>
<rect x="454.3" y="23.85" width="10.00" height="88.45" fill="#1a38d8" stroke="#000" stroke-width="0.9"/>
<line x1="459.30" y1="22.50" x2="459.30" y2="23.7" stroke="#000" stroke-width="1.1"/>
<line x1="456.30" y1="22.50" x2="462.30" y2="22.50" stroke="#000" stroke-width="1.2"/>
<rect x="469.7" y="66.15" width="10.10" height="46.15" fill="#a8caec" stroke="#000" stroke-width="0.9"/>
<line x1="474.75" y1="54.50" x2="474.75" y2="66.0" stroke="#000" stroke-width="1.1"/>
<line x1="471.75" y1="54.50" x2="477.75" y2="54.50" stroke="#000" stroke-width="1.2"/>
<rect x="484.7" y="96.85" width="10.30" height="15.45" fill="#2f7d1f" stroke="#000" stroke-width="0.9"/>
<line x1="489.85" y1="92.20" x2="489.85" y2="96.7" stroke="#000" stroke-width="1.1"/>
<line x1="486.85" y1="92.20" x2="492.85" y2="92.20" stroke="#000" stroke-width="1.2"/>
<rect x="500.3" y="53.15" width="10.60" height="59.15" fill="#4a4a4a" stroke="#000" stroke-width="0.9"/>
<line x1="505.60" y1="44.10" x2="505.60" y2="53.0" stroke="#000" stroke-width="1.1"/>
<line x1="502.60" y1="44.10" x2="508.60" y2="44.10" stroke="#000" stroke-width="1.2"/>
<text x="378.0" y="122.5" font-size="8" font-weight="bold" text-anchor="start" font-style="normal" fill="#000"  textLength="63.6" lengthAdjust="spacingAndGlyphs">Engr. failure freq.</text>
<text x="454.5" y="122.5" font-size="8" font-weight="bold" text-anchor="start" font-style="normal" fill="#000"  textLength="55.8" lengthAdjust="spacingAndGlyphs">GFP chimerism</text>
<line x1="459.8" y1="15.4" x2="477.8" y2="15.4" stroke="#222" stroke-width="0.9"/>
<line x1="459.8" y1="18.4" x2="504.8" y2="18.4" stroke="#222" stroke-width="0.9"/>
<polygon points="467.20,10.15 467.91,11.73 469.63,11.91 468.34,13.07 468.70,14.76 467.20,13.90 465.70,14.76 466.06,13.07 464.77,11.91 466.49,11.73" fill="#000" stroke="#000" stroke-width="0.5" stroke-linejoin="round"/>
<polygon points="471.60,10.15 472.31,11.73 474.03,11.91 472.74,13.07 473.10,14.76 471.60,13.90 470.10,14.76 470.46,13.07 469.17,11.91 470.89,11.73" fill="#000" stroke="#000" stroke-width="0.5" stroke-linejoin="round"/>
<line x1="475.5" y1="51.0" x2="491.3" y2="51.0" stroke="#222" stroke-width="0.9"/>
<polygon points="484.40,45.55 485.11,47.13 486.83,47.31 485.54,48.47 485.90,50.16 484.40,49.30 482.90,50.16 483.26,48.47 481.97,47.31 483.69,47.13" fill="#000" stroke="#000" stroke-width="0.5" stroke-linejoin="round"/>
<line x1="490.3" y1="38.6" x2="506.2" y2="38.6" stroke="#222" stroke-width="0.9"/>
<polygon points="499.20,33.45 499.91,35.03 501.63,35.21 500.34,36.37 500.70,38.06 499.20,37.20 497.70,38.06 498.06,36.37 496.77,35.21 498.49,35.03" fill="#000" stroke="#000" stroke-width="0.5" stroke-linejoin="round"/>
<rect x="380.6" y="14.70" width="14.8" height="5.6" fill="#1a38d8" stroke="#000" stroke-width="0.9"/>
<text x="397.4" y="20.6" font-size="8.7" font-weight="normal" text-anchor="start" font-style="normal" fill="#000" class="h">HSPC i.v.</text>
<rect x="380.6" y="26.85" width="14.8" height="5.6" fill="#a8caec" stroke="#000" stroke-width="0.9"/>
<text x="397.4" y="32.75" font-size="8.7" font-weight="normal" text-anchor="start" font-style="normal" fill="#000" class="h">HSPC i.p.</text>
<rect x="380.6" y="39.00" width="14.8" height="5.6" fill="#2f7d1f" stroke="#000" stroke-width="0.9"/>
<text x="397.4" y="44.9" font-size="8.7" font-weight="normal" text-anchor="start" font-style="normal" fill="#000" class="h">KLS i.v.</text>
<rect x="380.6" y="51.15" width="14.8" height="5.6" fill="#4a4a4a" stroke="#000" stroke-width="0.9"/>
<text x="397.4" y="57.05" font-size="8.7" font-weight="normal" text-anchor="start" font-style="normal" fill="#000" class="h">KLS i.v. (WT)</text>
<line x1="378.5" y1="165.40" x2="378.5" y2="266.5" stroke="#000" stroke-width="1.4"/>
<line x1="377.8" y1="265.8" x2="512.5" y2="265.8" stroke="#000" stroke-width="1.4"/>
<line x1="374.9" y1="265.80" x2="378.5" y2="265.80" stroke="#000" stroke-width="1.2"/>
<text transform="translate(374.5,268.7) scale(1,1.14)" x="0" y="0" font-size="7.6" font-weight="bold" text-anchor="end" font-style="normal" fill="#000" >0</text>
<line x1="374.9" y1="240.85" x2="378.5" y2="240.85" stroke="#000" stroke-width="1.2"/>
<text transform="translate(374.5,243.75) scale(1,1.14)" x="0" y="0" font-size="7.6" font-weight="bold" text-anchor="end" font-style="normal" fill="#000" >25</text>
<line x1="374.9" y1="215.90" x2="378.5" y2="215.90" stroke="#000" stroke-width="1.2"/>
<text transform="translate(374.5,218.8) scale(1,1.14)" x="0" y="0" font-size="7.6" font-weight="bold" text-anchor="end" font-style="normal" fill="#000" >50</text>
<line x1="374.9" y1="190.95" x2="378.5" y2="190.95" stroke="#000" stroke-width="1.2"/>
<text transform="translate(374.5,193.85) scale(1,1.14)" x="0" y="0" font-size="7.6" font-weight="bold" text-anchor="end" font-style="normal" fill="#000" >75</text>
<line x1="374.9" y1="166.00" x2="378.5" y2="166.00" stroke="#000" stroke-width="1.2"/>
<text transform="translate(374.5,168.9) scale(1,1.14)" x="0" y="0" font-size="7.6" font-weight="bold" text-anchor="end" font-style="normal" fill="#000" >100</text>
<line x1="413.3" y1="265.8" x2="413.3" y2="268.8" stroke="#000" stroke-width="1.1"/>
<line x1="483.4" y1="265.8" x2="483.4" y2="268.8" stroke="#000" stroke-width="1.1"/>
<text transform="translate(362.0,216.3) rotate(-90)" font-size="9" font-weight="bold" text-anchor="middle">%</text>
<rect x="387.7" y="244.95" width="12.70" height="20.85" fill="#f0448c" stroke="#000" stroke-width="0.9"/>
<rect x="406.6" y="240.75" width="13.20" height="25.05" fill="#8a3aaa" stroke="#000" stroke-width="0.9"/>
<rect x="426.3" y="166.35" width="12.50" height="99.45" fill="#1a38d8" stroke="#000" stroke-width="0.9"/>
<rect x="457.9" y="205.15" width="12.90" height="60.65" fill="#f0448c" stroke="#000" stroke-width="0.9"/>
<rect x="477.0" y="212.15" width="12.70" height="53.65" fill="#8a3aaa" stroke="#000" stroke-width="0.9"/>
<line x1="483.35" y1="208.20" x2="483.35" y2="212.0" stroke="#000" stroke-width="1.1"/>
<line x1="480.35" y1="208.20" x2="486.35" y2="208.20" stroke="#000" stroke-width="1.2"/>
<rect x="496.1" y="243.65" width="12.90" height="22.15" fill="#1a38d8" stroke="#000" stroke-width="0.9"/>
<line x1="502.55" y1="241.50" x2="502.55" y2="243.5" stroke="#000" stroke-width="1.1"/>
<line x1="499.55" y1="241.50" x2="505.55" y2="241.50" stroke="#000" stroke-width="1.2"/>
<text x="381.6" y="276.1" font-size="8" font-weight="bold" text-anchor="start" font-style="normal" fill="#000"  textLength="63.0" lengthAdjust="spacingAndGlyphs">Engr. failure freq.</text>
<text x="454.9" y="276.1" font-size="8" font-weight="bold" text-anchor="start" font-style="normal" fill="#000"  textLength="55.8" lengthAdjust="spacingAndGlyphs">GFP chimerism</text>
<line x1="484.3" y1="202.9" x2="502.1" y2="202.9" stroke="#222" stroke-width="0.9"/>
<polygon points="490.90,196.85 491.61,198.43 493.33,198.61 492.04,199.77 492.40,201.46 490.90,200.60 489.40,201.46 489.76,199.77 488.47,198.61 490.19,198.43" fill="#000" stroke="#000" stroke-width="0.5" stroke-linejoin="round"/>
<polygon points="495.60,196.85 496.31,198.43 498.03,198.61 496.74,199.77 497.10,201.46 495.60,200.60 494.10,201.46 494.46,199.77 493.17,198.61 494.89,198.43" fill="#000" stroke="#000" stroke-width="0.5" stroke-linejoin="round"/>
<rect x="448.0" y="165.50" width="14.8" height="5.2" fill="#f0448c" stroke="#000" stroke-width="0.9"/>
<text x="464.4" y="171.2" font-size="8.6" font-weight="normal" text-anchor="start" font-style="normal" fill="#000" class="h">TBM</text>
<rect x="448.0" y="175.20" width="14.8" height="5.2" fill="#8a3aaa" stroke="#000" stroke-width="0.9"/>
<text x="464.4" y="180.9" font-size="8.6" font-weight="normal" text-anchor="start" font-style="normal" fill="#000" class="h">HSPC&amp;Sca1-</text>
<rect x="448.0" y="184.90" width="14.8" height="5.2" fill="#1a38d8" stroke="#000" stroke-width="0.9"/>
<text x="464.4" y="190.6" font-size="8.6" font-weight="normal" text-anchor="start" font-style="normal" fill="#000" class="h">HSPC</text>
</svg>
</body></html>
